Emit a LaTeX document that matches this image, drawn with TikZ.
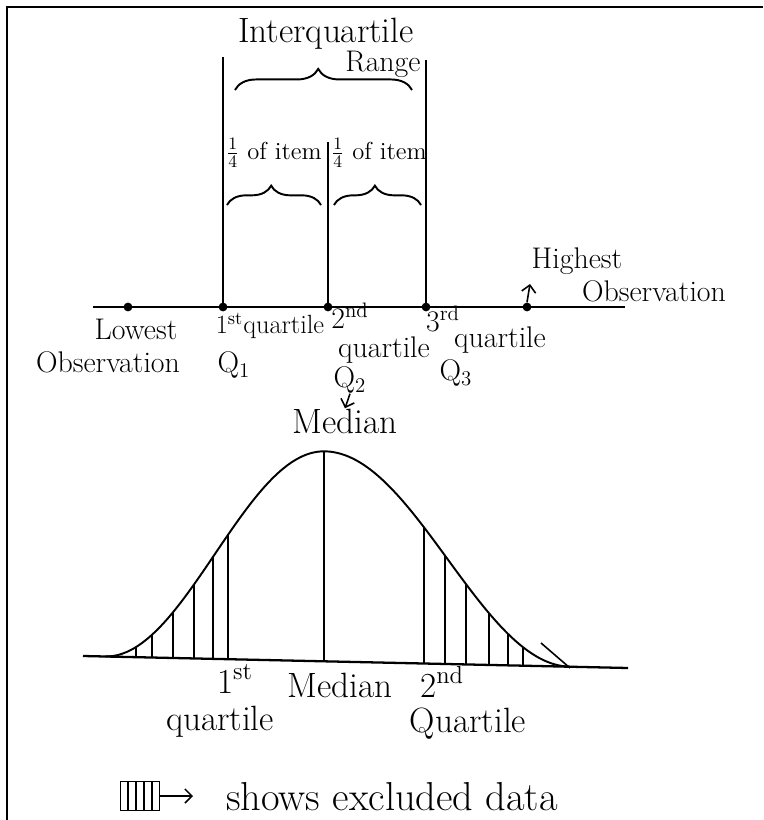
\documentclass[tikz,border=0pt]{standalone}
\usepackage{tikz}
\usetikzlibrary{
  positioning, arrows.meta, calc,
  decorations.pathreplacing
}
\tikzset{
  lbl/.style={font=\fontsize{17}{19}\selectfont, inner sep=0pt},
  biglbl/.style={font=\fontsize{20}{22}\selectfont, inner sep=0pt},
  fraclbl/.style={font=\fontsize{14}{16}\selectfont, inner sep=0pt},
  frameline/.style={line width=1.6pt},
  axisline/.style={line width=1.3pt},
  qline/.style={line width=1.1pt},
  hatch/.style={line width=0.9pt},
  obsdot/.style={circle, fill=black, inner sep=0pt, minimum size=5pt},
  brc/.style={decorate, decoration={brace, amplitude=#1, aspect=0.47}, line width=1.1pt},
  pointer/.style={-{Straight Barb[length=4pt]}, line width=0.9pt}
}

\begin{document}
\begin{tikzpicture}[x=0.02cm, y=-0.02cm,
  declare function={
    bl(\x)=656+(\x-83)/545*12;
    bell(\x)=(\x<325) ? 105*(1+cos((\x-325)/220*180)) : 105*(1+cos((\x-325)/245*180));
  }]
\useasboundingbox (0,0) rectangle (763,820);

%% Frame
\draw[frameline] (7,820) -- (7,7) -- (763,7);

%% Upper axis and points
\draw[axisline] (93,307) -- (625,307);
\coordinate (low) at (128,307);
\coordinate (q1) at (223,307);
\coordinate (q2) at (328,307);
\coordinate (q3) at (426,307);
\coordinate (high) at (527,307);
\foreach \p in {low,q1,q2,q3,high}
  \node[obsdot] (\p-dot) at (\p) {};

\draw[qline] (q1) -- ++(0,-250);
\draw[qline] (q2) -- ++(0,-165);
\draw[qline] (q3) -- ++(0,-247);

%% Interquartile range
\node[biglbl] (iqr) at (326,34) {Interquartile};
\node[lbl] (rng) at (383,64) {Range};
\draw[brc=12pt] (235,90) -- (412,90);

\node[fraclbl] (frac1) at (274,153) {$\frac{1}{4}$ of item};
\node[fraclbl] (frac2) at (379,153) {$\frac{1}{4}$ of item};
\draw[brc=11pt] (227,205) -- (321,205);
\draw[brc=11pt] (334,205) -- (421,205);

%% Labels under the axis
\node[lbl] (lowlbl) at (136,329) {Lowest};
\node[lbl] (lowobs) at (108,362) {Observation};
\node[lbl, font=\fontsize{15}{17}\selectfont] (q1lbl) at (270,326) {1\textsuperscript{st}quartile};
\node[lbl] (q1sym) at (234,365) {Q\textsubscript{1}};
\node[lbl] (q2lbl) at (350,316) {2\textsuperscript{nd}};
\node[lbl] (q2qt) at (384,350) {quartile};
\node[lbl] (q2sym) at (350,380) {Q\textsubscript{2}};
\node[biglbl] (medt) at (345,421) {Median};
\node[lbl] (q3lbl) at (443,319) {3\textsuperscript{rd}};
\node[lbl] (q3qt) at (500,340) {quartile};
\node[lbl] (q3sym) at (456,373) {Q\textsubscript{3}};
\node[lbl] (hilbl) at (577,261) {Highest};
\node[lbl] (hiobs) at (654,291) {Observation};

\draw[pointer] (q2sym.south) -- (medt.north);
\coordinate (hitip) at (530,284);
\draw[pointer] (high-dot.north) -- (hitip);

%% Bell curve
\coordinate (base-l) at (83,{bl(83)});
\coordinate (base-r) at (628,{bl(628)});
\draw[axisline] (base-l) -- (base-r);
\draw[qline] plot[domain=105:570, samples=100, smooth] (\x,{bl(\x)-bell(\x)});
\draw[qline] (324,{bl(324)}) -- (324,{bl(324)-bell(324)});
\foreach \hx in {136,152,173,194,213,228,424,445,466,489,508,523}
  \draw[hatch] (\hx,{bl(\hx)}) -- (\hx,{bl(\hx)-bell(\hx)});
\draw[hatch] (541,643) -- (570,668);

\node[biglbl] (st1) at (235,679) {1\textsuperscript{st}};
\node[biglbl] (qt1) at (220,722) {quartile};
\node[biglbl] (medb) at (340,685) {Median};
\node[biglbl] (nd2) at (442,682) {2\textsuperscript{nd}};
\node[biglbl] (qt2) at (468,724) {Quartile};

%% Legend
\node[draw, line width=1pt, minimum width=0.78cm, minimum height=0.58cm, inner sep=0pt] (legbox) at (140,796) {};
\foreach \lx in {1,2,3,4}
  \draw[hatch] ($(legbox.south west)!\lx/5!(legbox.south east)$) -- ($(legbox.north west)!\lx/5!(legbox.north east)$);
\coordinate (legtip) at (193,796);
\draw[pointer] (legbox.east) -- (legtip);
\node[lbl, font=\fontsize{23}{26}\selectfont] (legtxt) at (392,797) {shows excluded data};

\end{tikzpicture}
\end{document}
